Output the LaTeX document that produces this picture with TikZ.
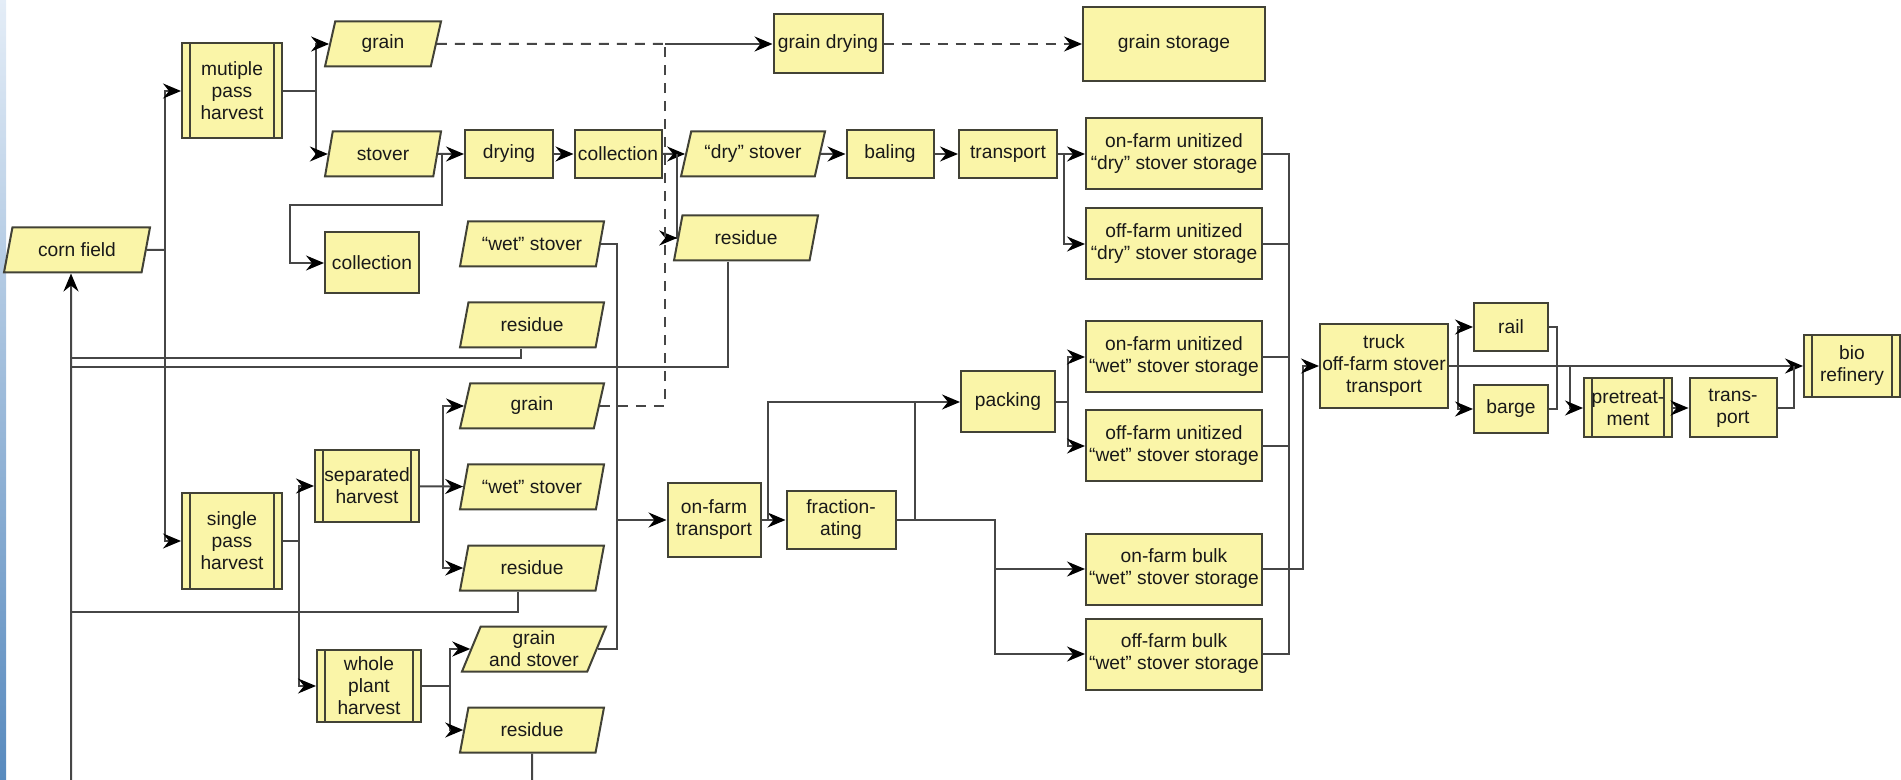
\documentclass[tikz,border=0pt]{standalone}
\usepackage{fontspec}
\setmainfont{Liberation Sans}
\usepackage{tikz}
\usetikzlibrary{shapes.geometric, arrows.meta}
\definecolor{boxfill}{RGB}{250,245,168}
\definecolor{boxline}{RGB}{66,66,54}
\definecolor{wire}{RGB}{70,70,70}
\definecolor{txt}{RGB}{25,25,25}
\definecolor{edgetop}{RGB}{228,237,247}
\definecolor{edgebot}{RGB}{88,138,190}
\tikzstyle{conn} = [draw=wire, line width=1pt]
\tikzstyle{arrow} = [conn, -{Stealth[length=9pt,width=7.5pt,inset=3pt,color=black]}]
\tikzstyle{dashline} = [conn, dash pattern=on 5pt off 4pt]
\tikzstyle{rec} = [rectangle, draw=boxline, fill=boxfill, line width=1pt, text=txt, inner sep=1pt, minimum width=44pt, minimum height=24pt, text centered]
\tikzstyle{store} = [rec, minimum width=88pt, minimum height=35.5pt]
\tikzstyle{predef} = [rec, path picture={\draw [boxline, line width=1pt] ([xshift=4pt]path picture bounding box.north west) -- ([xshift=4pt]path picture bounding box.south west) ([xshift=-4pt]path picture bounding box.north east) -- ([xshift=-4pt]path picture bounding box.south east);}]
\tikzstyle{para} = [trapezium, trapezium left angle=65, trapezium right angle=115, trapezium stretches body, draw=boxline, fill=boxfill, line width=1pt, text=txt, inner sep=1pt, minimum width=72pt, minimum height=22.5pt]

\begin{document}
\begin{tikzpicture}[x=0.5pt, y=-0.5pt, node distance=40.5pt, font=\fontsize{9.6}{11}\selectfont, every text node part/.style={align=center}]
	\useasboundingbox (0,0) rectangle (1901,780);
	\clip (0,0) rectangle (1901,780);
	\shade [top color=edgetop, bottom color=edgebot] (0,0) rectangle (6,780);
	% field and harvest
	\node (corn) [para, minimum width=73pt] at (77,250) {corn field};
	\node (multi) [predef, minimum width=50pt, minimum height=47.5pt] at (232,91) {mutiple\\pass\\harvest};
	\node (single) [predef, minimum width=50pt, minimum height=47.5pt] at (232,541) {single\\pass\\harvest};
	\node (separated) [predef, minimum width=52pt, minimum height=35.5pt] at (367,486) {separated\\harvest};
	\node (whole) [predef, minimum width=52pt, minimum height=36pt] at (369,686) {whole\\plant\\harvest};
	% multiple pass row
	\node (grainA) [para, minimum width=58pt] at (383,44) {grain};
	\node (stover) [para, minimum width=58pt] at (383,154) {stover};
	\node (drying) [rec, right of=stover, xshift=22.5pt] {drying};
	\node (collA) [rec, right of=drying, xshift=14pt, minimum width=43.5pt] {collection};
	\node (drystover) [para, right of=collA, xshift=27pt] {“dry” stover};
	\node (resD) [para, below of=drystover, xshift=-3.5pt, yshift=-1.5pt] {residue};
	\node (baling) [rec, right of=drystover, xshift=28pt, minimum width=43.5pt] {baling};
	\node (transp) [rec, right of=baling, xshift=18.5pt, minimum width=49pt] {transport};
	\node (onDry) [store, right of=transp, xshift=42.5pt] {on-farm unitized\\“dry” stover storage};
	\node (offDry) [store, below of=onDry, yshift=-4.5pt] {off-farm unitized\\“dry” stover storage};
	\node (collB) [rec, minimum width=47pt, minimum height=30.5pt] at (372,263) {collection};
	% products column
	\node (wetA) [para] at (532,244) {“wet” stover};
	\node (resA) [para, below of=wetA] {residue};
	\node (grainB) [para, below of=resA] {grain};
	\node (wetB) [para, below of=grainB] {“wet” stover};
	\node (resB) [para, below of=wetB] {residue};
	\node (grainst) [para, below of=resB, xshift=1pt] {grain\\and stover};
	\node (resC) [para, below of=grainst, xshift=-1pt] {residue};
	% grain line
	\node (graindry) [rec, minimum width=54.5pt, minimum height=29.5pt] at (828,44) {grain drying};
	\node (grainstor) [rec, minimum width=91pt, minimum height=37pt] at (1174,44) {grain storage};
	% wet stover line
	\node (onfarmtr) [rec, minimum width=46.5pt, minimum height=36.5pt] at (714,520) {on-farm\\transport};
	\node (fract) [rec, right of=onfarmtr, xshift=23pt, minimum width=54.5pt, minimum height=29pt] {fraction-\\ating};
	\node (packing) [rec, minimum width=47pt, minimum height=30.5pt] at (1008,402) {packing};
	\node (onWet) [store] at (1174,357) {on-farm unitized\\“wet” stover storage};
	\node (offWet) [store, below of=onWet, yshift=-4pt] {off-farm unitized\\“wet” stover storage};
	\node (onBulk) [store] at (1174,569) {on-farm bulk\\“wet” stover storage};
	\node (offBulk) [store, below of=onBulk, yshift=-2pt] {off-farm bulk\\“wet” stover storage};
	% to the refinery
	\node (truck) [rec, minimum width=64pt, minimum height=42pt] at (1384,366) {truck\\off-farm stover\\transport};
	\node (rail) [rec, minimum width=37pt, minimum height=24pt] at (1511,327) {rail};
	\node (barge) [rec, below of=rail, yshift=-0.5pt, minimum width=37pt, minimum height=24pt] {barge};
	\node (pretreat) [predef, minimum width=44pt, minimum height=29.5pt] at (1628,408) {pretreat-\\ment};
	\node (transB) [rec, right of=pretreat, xshift=12pt, minimum width=43.5pt, minimum height=29.5pt] {trans-\\port};
	\node (bio) [predef, minimum width=48pt, minimum height=31pt] at (1852,366) {bio\\refinery};

	\coordinate (cs) at (165,250);
	\coordinate (ms) at (316,91);
	\coordinate (ss) at (442,154);
	\coordinate (sd) at (290,205);
	\coordinate (cd) at (677,154);
	\coordinate (td) at (1064,154);
	\coordinate (sx) at (1289,400);
	\coordinate (tx) at (1303,569);
	\coordinate (rs) at (1458,366);
	\coordinate (rj) at (1557,366);
	\coordinate (pj) at (1570,366);
	\coordinate (bj) at (1794,366);
	\coordinate (sp) at (299,541);
	\coordinate (sh) at (443,486);
	\coordinate (wh) at (450,686);
	\coordinate (wj) at (617,520);
	\coordinate (ts) at (768,520);
	\coordinate (fs) at (915,520);
	\coordinate (bs) at (995,569);
	\coordinate (ps) at (1068,402);
	\coordinate (gm) at (665,44);
	\coordinate (rb) at (71,800);

	\draw [conn] (corn.east) -- (cs);
	\draw [arrow] (cs) |- (multi.west);
	\draw [arrow] (cs) |- (single.west);
	\draw [conn] (multi.east) -- (ms);
	\draw [arrow] (ms) |- (grainA.west);
	\draw [arrow] (ms) |- (stover.west);
	\draw [arrow] (stover) -- (drying);
	\draw [arrow] (ss) |- (sd) |- (collB.west);
	\draw [arrow] (drying) -- (collA);
	\draw [arrow] (collA) -- (drystover);
	\draw [arrow] (cd) |- (resD.west);
	\draw [arrow] (drystover) -- (baling);
	\draw [arrow] (baling) -- (transp);
	\draw [arrow] (transp) -- (onDry);
	\draw [arrow] (td) |- (offDry.west);
	\draw [conn] (onDry.east) -| (sx) |- (offBulk.east);
	\draw [conn] (offDry.east) -- (offDry.east -| sx);
	\draw [conn] (onWet.east) -- (onWet.east -| sx);
	\draw [conn] (offWet.east) -- (offWet.east -| sx);
	\draw [arrow] (onBulk.east) -- (tx) |- (truck.west);
	\draw [arrow] (truck) -- (bio);
	\draw [arrow] (rs) |- (rail.west);
	\draw [arrow] (rs) |- (barge.west);
	\draw [conn] (rail.east) -| (rj) |- (barge.east);
	\draw [arrow] (pj) |- (pretreat.west);
	\draw [arrow] (pretreat) -- (transB);
	\draw [conn] (transB.east) -| (bj);
	\draw [conn] (single.east) -- (sp);
	\draw [arrow] (sp) |- (separated.west);
	\draw [arrow] (sp) |- (whole.west);
	\draw [arrow] (separated) -- (wetB);
	\draw [arrow] (sh) |- (grainB.west);
	\draw [arrow] (sh) |- (resB.west);
	\draw [conn] (whole.east) -- (wh);
	\draw [arrow] (wh) |- (grainst.west);
	\draw [arrow] (wh) |- (resC.west);
	\draw [conn] (wetA.east) -| (wj) |- (grainst.east);
	\draw [arrow] (wj) -- (onfarmtr);
	\draw [arrow] (onfarmtr) -- (fract);
	\draw [arrow] (ts) |- (packing.west);
	\draw [conn] (fs) -- (fs |- packing.west);
	\draw [conn] (fract.east) -| (bs);
	\draw [arrow] (bs) -- (onBulk);
	\draw [arrow] (bs) |- (offBulk.west);
	\draw [conn] (packing.east) -- (ps);
	\draw [arrow] (ps) |- (onWet.west);
	\draw [arrow] (ps) |- (offWet.west);
	\draw [dashline] (grainA.east) -- (gm);
	\draw [dashline] (grainB.east) -| (gm);
	\draw [arrow] (gm) -- (graindry);
	\draw [arrow, dash pattern=on 5pt off 4pt] (graindry) -- (grainstor);
	\draw [arrow] (resC.south) |- (rb) -- ([xshift=-3pt]corn.south);
	\draw [conn] ([xshift=-5.5pt]resA.south) -- ++(0,9) -| (rb);
	\draw [conn] ([xshift=-9pt]resD.south) -- ++(0,105) -| (rb);
	\draw [conn] ([xshift=-7pt]resB.south) -- ++(0,20) -| (rb);
\end{tikzpicture}
\end{document}
